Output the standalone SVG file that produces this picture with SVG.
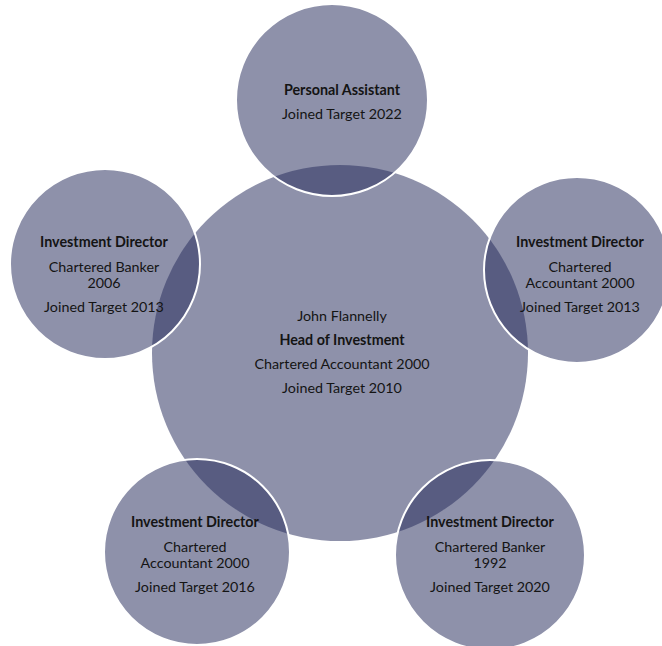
<svg xmlns="http://www.w3.org/2000/svg" width="662" height="646" viewBox="0 0 662 646">
<style>
.c{fill:#262d5c;fill-opacity:0.52}
.o{fill:#262d5c;fill-opacity:0.52;stroke:#ffffff;stroke-width:2}
text{font-family:"Lato","Liberation Sans",sans-serif;font-size:14.3px;fill:#141414;text-anchor:middle}
.b{font-weight:bold}
</style>
<rect width="662" height="646" fill="#ffffff"/>
<g id="head">
<circle class="c" cx="340" cy="353" r="188"/>
<text x="342" y="321">John Flannelly</text>
<text class="b" x="342" y="345">Head of Investment</text>
<text x="342" y="369">Chartered Accountant 2000</text>
<text x="342" y="393">Joined Target 2010</text>
</g>
<g id="assistant">
<circle class="o" cx="332" cy="100" r="96"/>
<text class="b" x="342" y="95">Personal Assistant</text>
<text x="342" y="119">Joined Target 2022</text>
</g>
<g id="director-left">
<circle class="o" cx="105" cy="264" r="95"/>
<text class="b" x="104" y="247">Investment Director</text>
<text x="104" y="272">Chartered Banker</text>
<text x="104" y="288">2006</text>
<text x="104" y="312">Joined Target 2013</text>
</g>
<g id="director-right">
<circle class="o" cx="577" cy="270" r="93"/>
<text class="b" x="580" y="247">Investment Director</text>
<text x="580" y="272">Chartered</text>
<text x="580" y="288">Accountant 2000</text>
<text x="580" y="312">Joined Target 2013</text>
</g>
<g id="director-bottom-left">
<circle class="o" cx="197" cy="552" r="93"/>
<text class="b" x="195" y="527">Investment Director</text>
<text x="195" y="552">Chartered</text>
<text x="195" y="568">Accountant 2000</text>
<text x="195" y="592">Joined Target 2016</text>
</g>
<g id="director-bottom-right">
<circle class="o" cx="490" cy="555" r="95"/>
<text class="b" x="490" y="527">Investment Director</text>
<text x="490" y="552">Chartered Banker</text>
<text x="490" y="568">1992</text>
<text x="490" y="592">Joined Target 2020</text>
</g>
<g id="connectors"/>
</svg>
